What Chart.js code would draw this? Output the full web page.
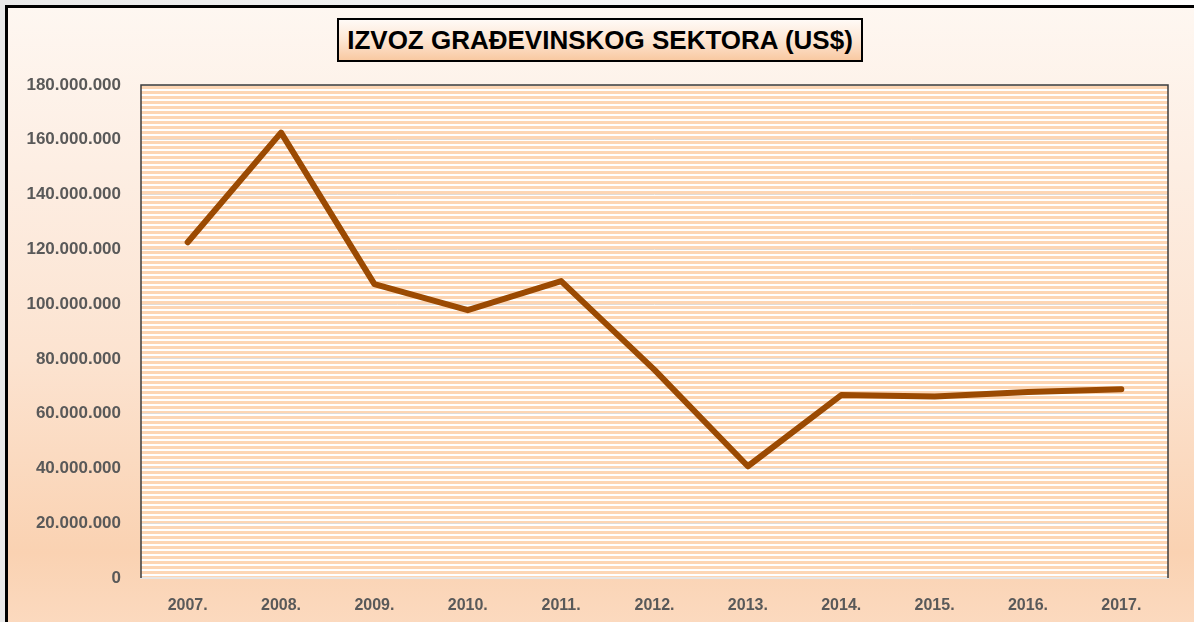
<!DOCTYPE html>
<html>
<head>
<meta charset="utf-8">
<script src="https://cdn.jsdelivr.net/npm/chart.js@4"></script>
<style>
  html, body { margin: 0; padding: 0; }
  body {
    width: 1194px; height: 622px; overflow: hidden; position: relative;
    background: linear-gradient(to right, #e9e9e9, #f7f7f7 60%, #ffffff);
  }
  #frame {
    position: absolute; left: 5px; top: 5px; width: 1200px; height: 640px;
    border-left: 3px solid #000; border-top: 3px solid #000;
    background: linear-gradient(to bottom, #fef7f1 0%, #fdeee3 25%, #fce3d0 55%, #fad2b2 85%, #fcdcc3 100%);
  }
  #title {
    position: absolute; left: 337px; top: 18px; width: 522px; height: 40px;
    border: 2px solid #000;
    background: linear-gradient(to bottom, #fffaf6 0%, #fde6d3 50%, #f9c9a2 100%);
    font: bold 26px "Liberation Sans", Arial, sans-serif;
    color: #000; text-align: center; line-height: 41px; white-space: nowrap;
  }
  canvas { position: absolute; left: 0; top: 0; }
</style>
</head>
<body>
<div id="frame"></div>
<div id="title">IZVOZ GRAĐEVINSKOG SEKTORA (US$)</div>
<canvas id="myChart" width="1194" height="622"></canvas>
<script>
  var godine = ["2007.", "2008.", "2009.", "2010.", "2011.", "2012.", "2013.", "2014.", "2015.", "2016.", "2017."];
  var izvoz = [122600000, 162600000, 107300000, 97800000, 108400000, 76000000, 40800000, 66800000, 66300000, 67900000, 68900000];
  var yMax = 180000000;
  var yKorak = 20000000;

  function formatBroj(v) {
    return String(v).replace(/\B(?=(\d{3})+(?!\d))/g, ".");
  }

  // horizontal stripes behind the plot, like the excel pattern fill
  var pruge = {
    id: "pruge",
    beforeDraw: function (chart) {
      var a = chart.chartArea;
      var c = chart.ctx;
      c.save();
      c.fillStyle = "#ffffff";
      c.fillRect(a.left, a.top, a.right - a.left, a.bottom - a.top);
      c.fillStyle = "#fdd6b4";
      for (var y = a.top + 1; y < a.bottom; y += 5) {
        c.fillRect(a.left, y, a.right - a.left, Math.min(3, a.bottom - y));
      }
      c.restore();
    },
    afterDraw: function (chart) {
      var a = chart.chartArea;
      var c = chart.ctx;
      c.save();
      c.strokeStyle = "#3c3c3c";
      c.lineWidth = 1.5;
      c.beginPath();
      c.moveTo(a.left, a.bottom);
      c.lineTo(a.left, a.top);
      c.lineTo(a.right, a.top);
      c.lineTo(a.right, a.bottom);
      c.stroke();
      c.restore();
    }
  };

  var ctx = document.getElementById("myChart");
  var myChart = new Chart(ctx, {
    type: "line",
    data: {
      labels: godine,
      datasets: [{
        data: izvoz,
        borderColor: "#9b4a02",
        borderWidth: 6,
        borderCapStyle: "round",
        borderJoinStyle: "round",
        pointRadius: 0,
        tension: 0,
        fill: false
      }]
    },
    options: {
      responsive: false,
      animation: false,
      events: [],
      layout: { padding: { left: 10, top: 85, right: 26, bottom: 0 } },
      plugins: {
        legend: { display: false },
        title: { display: false },
        tooltip: { enabled: false }
      },
      scales: {
        x: {
          offset: true,
          grid: { display: false },
          border: { display: true, color: "#e6e6e6", width: 2 },
          ticks: {
            padding: 10,
            color: "#595959",
            font: { family: "'Liberation Sans', Arial, sans-serif", size: 16, weight: "bold" }
          },
          afterFit: function (s) { s.height = 44; }
        },
        y: {
          min: 0,
          max: yMax,
          grid: { color: "#e2dcd6", lineWidth: 1, drawTicks: false },
          border: { display: false },
          ticks: {
            stepSize: yKorak,
            padding: 20,
            color: "#595959",
            font: { family: "'Liberation Sans', Arial, sans-serif", size: 17, weight: "bold" },
            callback: function (v) { return formatBroj(v); }
          },
          afterFit: function (s) { s.width = 131; }
        }
      }
    },
    plugins: [pruge]
  });
</script>
</body>
</html>
